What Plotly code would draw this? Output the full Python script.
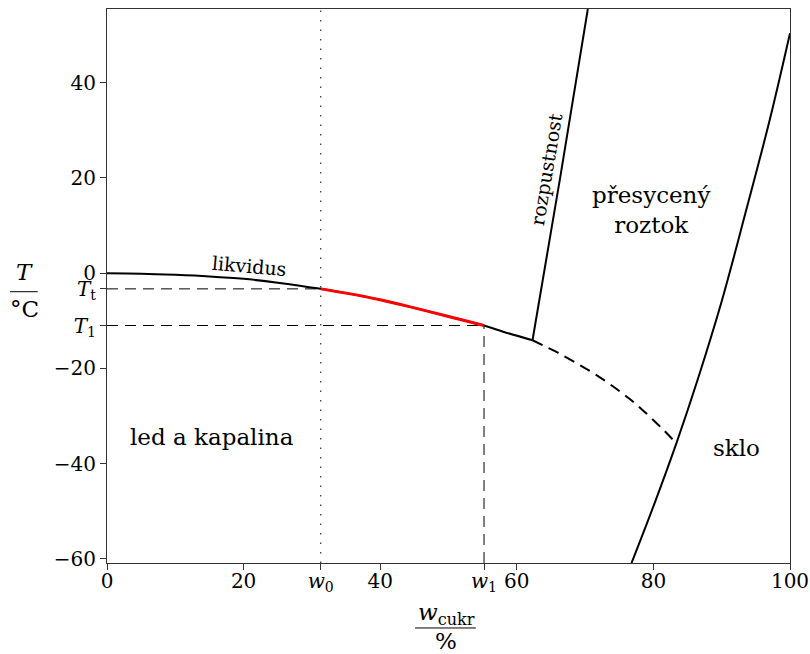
import plotly.graph_objects as go

# ---- data ----
w0 = 31.3
w1 = 55.2
Tt = -3.3
T1 = -11.0
x_range = [0, 100]
y_range = [-60.9, 55.5]

liq_x = [0, 5, 10, 15, 20, 25, 31.3, 35, 40, 45, 50, 55.2, 58, 62.3]
liq_T = [0, -0.1, -0.35, -0.7, -1.2, -2.0, -3.3, -4.2, -5.6, -7.3, -9.1, -11.0, -12.3, -14.1]

red_x = [31.3, 35, 40, 45, 50, 55.2]
red_T = [-3.3, -4.2, -5.6, -7.3, -9.1, -11.0]

liq_dash_x = [62.3, 64, 66, 68.5, 71.2, 73.9, 76.5, 78.6, 81.1, 83.4]
liq_dash_T = [-14.1, -15.3, -16.7, -18.7, -21.0, -23.6, -26.4, -29.0, -32.4, -35.8]

sol_x = [62.3, 66.4, 70.4]
sol_T = [-14.1, 20.5, 55.5]

glass_x = [76.8, 80, 83.4, 86.5, 90, 93.6, 97, 100]
glass_T = [-60.9, -49, -35.6, -22.3, -5.9, 13.3, 32, 50.4]

x_tickvals = [0, 20, w0, 40, w1, 60, 80, 100]
x_ticktext = ["0", "20", "<i>w</i><sub>0</sub>", "40", "<i>w</i><sub>1</sub>", "60", "80", "100"]
y_tickvals = [-60, -40, -20, T1, Tt, 0, 20, 40]
y_ticktext = ["\u221260", "\u221240", "\u221220", "<i>T</i><sub>1</sub>", "<i>T</i><sub>t</sub>", "0", "20", "40"]

FONT = "DejaVu Serif"
BIG = 23
TICK = 20
SMALL = 19

fig = go.Figure()

# helper lines
fig.add_trace(go.Scatter(x=[w0, w0], y=y_range, mode="lines",
                         line=dict(color="black", width=1, dash="1.5px,8px"), hoverinfo="skip"))
fig.add_trace(go.Scatter(x=[0, w0], y=[Tt, Tt], mode="lines",
                         line=dict(color="black", width=1, dash="11px,7px"), hoverinfo="skip"))
fig.add_trace(go.Scatter(x=[0, w1], y=[T1, T1], mode="lines",
                         line=dict(color="black", width=1, dash="11px,7px"), hoverinfo="skip"))
fig.add_trace(go.Scatter(x=[w1, w1], y=[y_range[0], T1], mode="lines",
                         line=dict(color="black", width=1, dash="11px,7px"), hoverinfo="skip"))

# curves
fig.add_trace(go.Scatter(x=liq_x, y=liq_T, mode="lines",
                         line=dict(color="black", width=2, shape="spline"), hoverinfo="skip"))
fig.add_trace(go.Scatter(x=red_x, y=red_T, mode="lines",
                         line=dict(color="red", width=3, shape="spline"), hoverinfo="skip"))
fig.add_trace(go.Scatter(x=liq_dash_x, y=liq_dash_T, mode="lines",
                         line=dict(color="black", width=2, dash="11px,7px", shape="spline"), hoverinfo="skip"))
fig.add_trace(go.Scatter(x=sol_x, y=sol_T, mode="lines",
                         line=dict(color="black", width=2), hoverinfo="skip"))
fig.add_trace(go.Scatter(x=glass_x, y=glass_T, mode="lines",
                         line=dict(color="black", width=2, shape="spline"), hoverinfo="skip"))

# region labels
def label(x, y, text, size, angle=0, **kw):
    fig.add_annotation(x=x, y=y, text=text, showarrow=False, textangle=angle,
                       xanchor="center", yanchor="middle",
                       font=dict(size=size, family=FONT, color="black"), **kw)

label(20.9, 1.6, "likvidus", SMALL, 5)
label(64.3, 21.9, "rozpustnost", SMALL, -80.5)
label(79.6, 13.3, "přesycený<br>roztok", BIG)
label(15.4, -34.5, "led a kapalina", BIG)
label(92.1, -36.8, "sklo", BIG)

# axis titles as fractions
label(-0.1215, 0.526, "<i>T</i>", BIG, xref="paper", yref="paper")
label(-0.1215, 0.459, "°C", BIG, xref="paper", yref="paper")
fig.add_shape(type="line", xref="paper", yref="paper", x0=-0.142, x1=-0.1015, y0=0.4897, y1=0.4897,
              line=dict(color="black", width=1))

label(0.497, -0.092, "<i>w</i><sub>cukr</sub>", BIG, xref="paper", yref="paper")
label(0.497, -0.141, "%", BIG, xref="paper", yref="paper")
fig.add_shape(type="line", xref="paper", yref="paper", x0=0.451, x1=0.540, y0=-0.1173, y1=-0.1173,
              line=dict(color="black", width=1))

axis_common = dict(showline=True, linecolor="#333", linewidth=1, mirror=True,
                   ticks="outside", ticklen=6, tickcolor="#333", tickwidth=1,
                   showgrid=False, zeroline=False, automargin=False,
                   ticklabeloverflow="allow",
                   tickfont=dict(size=TICK, family=FONT, color="black"))

fig.update_xaxes(range=x_range, tickmode="array", tickvals=x_tickvals, ticktext=x_ticktext,
                 ticklabelstandoff=-6, **axis_common)
fig.update_yaxes(range=y_range, tickmode="array", tickvals=y_tickvals, ticktext=y_ticktext,
                 **axis_common)

fig.update_layout(width=810, height=654, showlegend=False,
                  plot_bgcolor="white", paper_bgcolor="white",
                  margin=dict(l=107, r=20, t=9, b=91),
                  font=dict(family=FONT, color="black"))

fig.write_html("out.html",
               config={"displayModeBar": False},
               post_script="document.body.style.margin='0';document.body.style.overflow='hidden';")
